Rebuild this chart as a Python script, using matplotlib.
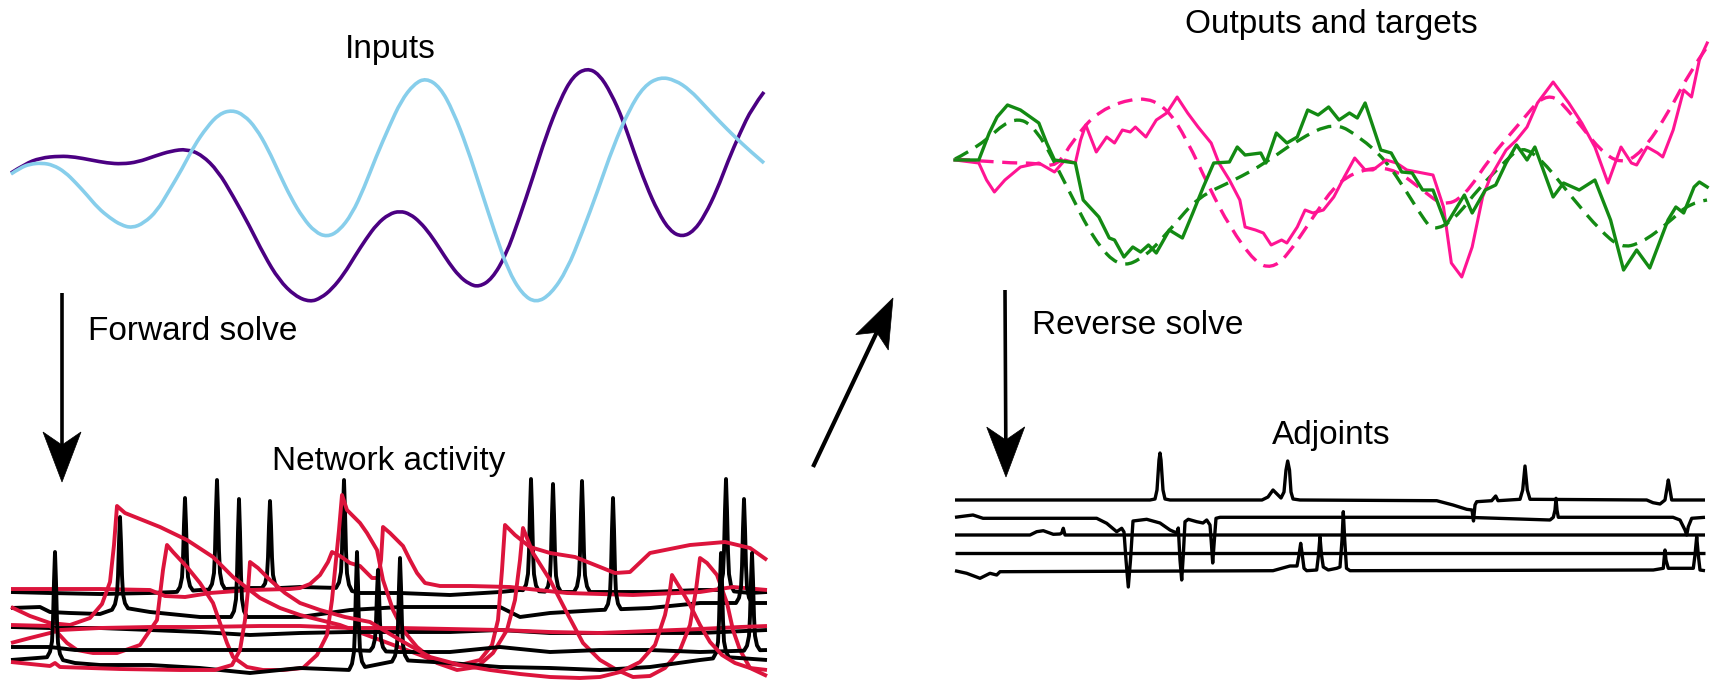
import matplotlib
matplotlib.use('Agg')
import matplotlib.pyplot as plt
from matplotlib.patches import Polygon, PathPatch
from matplotlib.path import Path
import numpy as np

plt.rcParams['font.family'] = ['Liberation Sans', 'DejaVu Sans']

W, H = 1719, 686

# ---------------- data: Inputs ----------------
purple_t = [11,25,40,60,75,91,107,122,138,155,171,187,202,218,233,249,264,279,295,310,321,332,344,355,366,377,389,400,
            410,420,430,440,449,459,469,479,492,506,519,533,546,560,573,587,599,611,623,634,646,658,670,682,694,705,717,728,740,752,764]
purple_v = [173,164,158,156,157,160,163,164,162,156,151,149,155,171,196,225,255,280,296,302,298,289,274,256,239,224,214,211,
            214,222,234,249,263,276,284,287,279,255,219,177,136,100,76,68,74,93,120,152,185,212,231,237,231,215,190,161,133,108,92]
blue_t = [11,20,30,42,53,65,76,87,98,110,121,132,144,157,169,182,194,207,219,232,244,256,268,279,291,303,315,327,
          339,352,364,376,389,401,414,426,440,453,467,481,495,508,522,536,551,567,582,598,613,629,644,660,675,690,705,720,735,750,764]
blue_v = [174,168,164,163,165,172,183,195,208,218,225,228,223,211,191,169,146,127,114,110,115,128,149,173,198,218,232,237,
          231,214,188,157,127,101,84,78,87,111,147,190,233,270,294,303,294,270,233,190,147,110,86,77,80,90,106,122,137,151,163]

# ---------------- data: Outputs and targets ----------------
green_tgt_t = [955,979,1013,1037,1068,1095,1121,1147,1174,1200,1237,1268,1300,1337,1363,1389,1411,1426,1437,1458,1484,1511,1526,1547,1579,1605,1626,1647,1674,1695,1713]
green_tgt_v = [159,147,116,127,187,240,268,257,227,197,180,163,140,122,137,160,193,217,231,220,187,160,146,160,200,230,248,243,223,203,200]
pink_tgt_t = [955,1005,1037,1058,1074,1100,1142,1168,1189,1211,1232,1258,1274,1289,1316,1342,1374,1400,1426,1447,1468,1495,1521,1553,1579,1605,1626,1647,1674,1695,1713]
pink_tgt_v = [159,163,163,167,140,110,96,107,140,187,227,263,268,257,217,180,167,170,190,206,197,157,127,89,117,150,164,153,113,73,47]
green_out_t = [955,979,989.5,997.4,1007.9,1021,1039.5,1047.4,1055.3,1076.3,1084.2,1100,1110.5,1115.8,1125.3,1134.2,1142.1,1150,1157.9,1171,
               1184.2,1194.7,1205.3,1215.8,1231.6,1239.5,1247.4,1263.2,1268.4,1278.9,1289.5,1300,1310.5,1321,1331.6,1342.1,1352.6,1360.5,1368.4,
               1384.2,1394.7,1405.3,1415.8,1426.3,1436.8,1450,1468.4,1476.3,1489.5,1500,1510.5,1521,1531.6,1539.5,1557.9,1568.4,1584.2,1600,
               1615.8,1628.9,1642.1,1655.3,1673.7,1681.6,1689.5,1700,1705.3,1713.2]
green_out_v = [160,160,133,117,105,110,123,143,160,163,200,217,238,240,257,247,252,245,253,230,
               238,213,187,163,162,147,155,153,163,133,143,137,110,115,107,120,113,118,103,
               150,153,172,173,190,190,225,195,213,190,185,163,145,160,147,197,183,190,180,
               220,270,250,268,220,207,213,187,182,187]
pink_out_t = [955,979,986.8,994.7,1005.3,1021,1039.5,1055.3,1065.8,1076.3,1081.6,1086.8,1097.4,1107.9,1115.8,1123.7,1131.6,1136.8,1147.4,
              1157.9,1168.4,1178.9,1189.5,1200,1213.2,1221,1231.6,1242.1,1247.4,1257.9,1265.8,1273.7,1284.2,1289.5,1300,1307.9,1315.8,
              1326.3,1336.8,1347.4,1357.9,1368.4,1376.3,1389.5,1400,1410.5,1426.3,1436.8,1447.4,1455.3,1465.8,1476.3,1486.8,1494.7,
              1510.5,1521,1531.6,1542.1,1557.9,1573.7,1586.8,1600,1613.2,1626.3,1636.8,1642.1,1652.6,1663.2,1668.4,1678.9,1689.5,
              1697.4,1705.3,1713.2]
pink_out_v = [160,163,180,192,180,167,163,172,160,163,140,125,152,137,143,130,132,127,137,
              120,113,97,113,127,143,163,180,200,227,230,233,245,240,243,227,210,213,
              210,197,177,158,170,170,160,163,170,173,175,207,263,277,247,197,177,
              150,140,127,103,82,103,123,147,183,147,163,165,147,153,157,130,90,
              97,60,43]

# ---------------- data: Network activity ----------------
blk_a_t = [11,50,100,150,175,200,250,280,300,340,360,400,450,500,520,550,600,650,700,720,750,767]
blk_a_v = [592,593,594,593,592,590,588,588,587,588,593,593,595,592,590,592,592,592,590,590,593,592]
blk_b_t = [11,40,50,70,100,120,150,200,300,350,400,500,520,550,600,650,700,740,767]
blk_b_v = [608,607,612,613,614,607,612,617,617,610,607,607,617,613,610,608,603,603,603]
blk_c_t = [11,50,100,150,200,250,300,350,400,450,500,550,600,650,700,767]
blk_c_v = [627,628,628,630,632,635,633,632,632,632,630,633,633,633,633,630]
blk_d_t = [11,50,75,100,150,200,250,300,350,400,450,500,550,600,650,700,767]
blk_d_v = [647,647,650,650,650,650,650,650,650,652,652,647,652,650,650,652,650]
blk_e_t = [11,50,75,100,150,200,250,300,350,400,450,500,550,600,650,700,725,767]
blk_e_v = [660,657,663,665,665,668,673,668,670,660,663,667,668,670,667,660,657,660]
# spike times and peak levels for each black trace
spk_a_t = [185,217,270,344,531,553,582,726]
spk_a_v = [498,480,501,480,479,484,481,479]
spk_b_t = [120,239,613,744]
spk_b_v = [517,499,498,499]
spk_d_t = [378,752]
spk_d_v = [570,553]
spk_e_t = [55,357,400,721]
spk_e_v = [552,552,558,553]

red_a_t = [11,100,150,165,185,210,250,290,300,310,320,328,332,340,350,360,372,378,381,383,390,397,403,410,417,425,440,470,510,567,633,700,733,767]
red_a_v = [589,589,590,596,597,593,590,589,588,584,575,562,552,556,563,566,578,578,560,527,533,540,546,560,573,583,586,586,587,593,595,592,587,590]
red_b_t = [11,30,50,70,90,102,110,114,117,125,140,160,187,213,233,247,260,280,300,340,380,420,440,460,480,492,498,502,505,
           515,530,550,575,600,615,630,650,690,725,750,767]
red_b_v = [607,616,623,625,618,604,582,545,506,513,519,527,540,557,577,588,598,608,615,625,640,655,663,665,660,645,620,570,525,
           535,547,553,557,567,573,572,553,545,542,548,560]
red_c_t = [11,50,55,67,77,93,117,140,157,163,167,173,187,200,213,220,227,233,247,263,283,303,317,327,332,336,339,342,
           347,360,367,377,383,393,403,417,437,457,477,493,507,515,520,523,533,550,567,583,600,617,633,650,665,680,690,696,700,
           707,717,727,733,740,750,767]
red_c_v = [625,626,630,643,650,653,653,645,620,570,545,552,567,583,603,623,643,657,667,670,670,668,655,635,600,560,530,495,
           510,523,533,550,580,610,630,647,663,670,667,653,630,600,560,528,553,580,613,643,660,670,677,676,668,650,625,590,558,
           563,575,603,630,650,668,676]
red_d_t = [11,30,50,60,100,150,200,260,300,350,400,450,500,550,600,650,700,740,767]
red_d_v = [643,638,633,630,628,627,627,626,626,628,628,629,630,632,633,631,629,627,626]
red_e_t = [11,50,55,60,120,180,215,232,240,245,248,250,258,270,285,300,320,345,370,400,430,460,490,520,550,580,600,620,640,655,665,670,672,
           680,690,700,710,722,735,750,767]
red_e_v = [662,666,663,667,669,670,670,665,650,620,590,562,568,580,593,603,610,617,622,640,657,665,670,674,677,678,677,672,662,645,615,590,575,
           588,605,625,642,655,663,668,670]

# ---------------- data: Adjoints ----------------
adj1_t = [955,1150,1155,1157,1159,1160,1161,1163,1165,1170,1262,1268,1273,1277,1281,1284,1286,1287.7,1289.5,1291,1293,1300,1436.7,1453,1466.7,1472,
          1473.5,1475,1476.7,1491.7,1495.7,1498,1520,1522.7,1525,1527.3,1530,1646.7,1653,1660,1665,1667,1668.3,1669.7,1671.7,1705]
adj1_v = [500,500,499,490,460,453,460,490,499,500,500,497,490,494,498,492,470,461,470,492,499,500,500.7,505,509.3,510,
          521,505,501.7,500.7,496,500.7,499.3,490,466,490,499.3,500,502.7,504,500,488,480,488,500,500]
adj2_t = [955,965,973,983,1096.7,1106.7,1116.7,1121.7,1124,1126,1128.3,1130.5,1133,1146.7,1160,1170,1176.7,1178.3,1180,1181.7,1183.3,1185,
          1188.3,1196.7,1203,1206.7,1210,1211.5,1212.7,1214,1216,1220,1466.7,1550,1553.3,1555,1556,1557,1558.3,1673,1680,1685,1686.7,
          1688.3,1691.7,1705]
adj2_v = [517.3,516,515,518.3,518.3,523.3,531.7,528.3,532,560,587,560,521,519.3,523,530,533,528,560,580,555,521.7,
          519.3,521.7,523,520,525,545,563,545,518.3,517.3,517.3,520,517.3,510,498.3,510,517.3,517.3,520,530,535,
          526.7,518.3,517.3]
adj3_t = [955,1030,1036.7,1043.3,1053.3,1060,1061.7,1063.3,1065,1705]
adj3_v = [535,535,531.7,530.7,534.3,534,533,528.3,535,535]
adj4_t = [955,1705]
adj4_v = [553.3,553.3]
adj5_t = [955,966.7,980,990,996.7,1000,1273,1290,1297,1299,1300.7,1302.3,1304,1306.7,1316.7,1318.5,1320,1321.5,1323.3,1328.3,1336.7,1340,
          1342,1343.3,1344.7,1346.5,1350,1653.3,1663.3,1664,1665,1666,1668.3,1680,1693.3,1695,1696.7,1698.3,1700,1705]
adj5_v = [570.7,573.3,578.3,573.3,575,571.7,570.7,566,566,555,543.3,555,568.3,570.7,570,555,536.7,555,567,570,568.3,567,
          540,511.7,540,568.3,570.7,570,568.3,560,550,560,568.3,568.3,568.3,555,536.7,555,570,570.7]

# ---------------- styles ----------------
C_PURPLE = '#4B0082'
C_BLUE = '#87CEEB'
C_PINK = '#FF1493'
C_GREEN = '#138A13'
C_RED = '#DC143C'

fig = plt.figure(figsize=(W / 100, H / 100), dpi=100)


def panel(x0, x1, y0, y1, xlim, ylim):
    ax = fig.add_axes([x0 / W, 1 - y1 / H, (x1 - x0) / W, (y1 - y0) / H])
    ax.set_xlim(*xlim)
    ax.set_ylim(*ylim)
    ax.axis('off')
    return ax


def smooth_line(ax, t, v, **kw):
    """Draw a smooth (quadratic B-spline style) curve through the read points."""
    p = np.column_stack([t, v]).astype(float)
    verts = [p[0]]
    codes = [Path.MOVETO]
    n = len(p)
    for i in range(1, n - 1):
        end = p[n - 1] if i == n - 2 else (p[i] + p[i + 1]) / 2
        verts += [p[i], end]
        codes += [Path.CURVE3, Path.CURVE3]
    patch = PathPatch(Path(verts, codes), fill=False, clip_on=False, capstyle='butt', **kw)
    ax.add_patch(patch)
    return patch


# overlay for text and arrows
ov = fig.add_axes([0, 0, 1, 1])
ov.set_xlim(0, W)
ov.set_ylim(H, 0)
ov.axis('off')

FS = 24
ov.text(390, 58, 'Inputs', ha='center', va='baseline', fontsize=FS)
ov.text(88, 340, 'Forward solve', ha='left', va='baseline', fontsize=FS)
ov.text(389, 470, 'Network activity', ha='center', va='baseline', fontsize=FS)
ov.text(1331, 33, 'Outputs and targets', ha='center', va='baseline', fontsize=FS)
ov.text(1032, 334, 'Reverse solve', ha='left', va='baseline', fontsize=FS)
ov.text(1331, 444, 'Adjoints', ha='center', va='baseline', fontsize=FS)


def arrow(ax, tail, tip, hl, hw, notch, lw):
    tail = np.array(tail, float)
    tip = np.array(tip, float)
    d = tip - tail
    u = d / np.hypot(*d)
    n = np.array([-u[1], u[0]])
    base = tip - u * hl
    nptn = tip - u * (hl - notch)
    ax.plot([tail[0], nptn[0]], [tail[1], nptn[1]], color='k', lw=lw, solid_capstyle='butt')
    ax.add_patch(Polygon([tip, base + n * hw / 2, nptn, base - n * hw / 2], closed=True,
                         facecolor='k', edgecolor='k', lw=0.5))


arrow(ov, (62, 293), (62, 482), 50, 38, 13, 2.6)
arrow(ov, (1005, 290), (1006, 477), 50, 38, 13, 2.6)
arrow(ov, (813, 467), (893, 298), 49, 36, 11, 3.0)

# ---------------- Inputs panel ----------------
ax_in = panel(11, 764, 60, 310, (11, 764), (310, 60))
smooth_line(ax_in, purple_t, purple_v, edgecolor=C_PURPLE, lw=2.6)
smooth_line(ax_in, blue_t, blue_v, edgecolor=C_BLUE, lw=2.6)

# ---------------- Outputs panel ----------------
ax_out = panel(955, 1707, 40, 280, (955, 1713), (280, 40))
smooth_line(ax_out, pink_tgt_t, pink_tgt_v, edgecolor=C_PINK, lw=2.4, linestyle=(0, (4.5, 2.6)))
smooth_line(ax_out, green_tgt_t, green_tgt_v, edgecolor=C_GREEN, lw=2.4, linestyle=(0, (4.5, 2.6)))
ax_out.plot(pink_out_t, pink_out_v, color=C_PINK, lw=2.2, clip_on=False, solid_joinstyle='round')
ax_out.plot(green_out_t, green_out_v, color=C_GREEN, lw=2.4, clip_on=False, solid_joinstyle='round')

# ---------------- Network panel ----------------
ax_net = panel(11, 767, 470, 682, (11, 767), (682, 470))
spike_dx = np.array([-8, -5, -3, -2, -1, 0, 1, 2, 3, 5, 8], float)
spike_fr = np.array([0, 0.05, 0.15, 0.35, 0.72, 1, 0.72, 0.35, 0.15, 0.05, 0])


def spiky(bt, bv, st, sv):
    bt = np.asarray(bt, float)
    bv = np.asarray(bv, float)
    ts = list(bt)
    for s in st:
        ts += list(s + spike_dx)
    ts = np.unique(np.array(ts))
    vs = np.interp(ts, bt, bv)
    for s, p in zip(st, sv):
        base = np.interp(s, bt, bv)
        prof = np.interp(ts, s + spike_dx, spike_fr, left=0, right=0)
        vs = vs - prof * (base - p)
    return ts, vs


NLW = 2.8
pairs = [
    ('k', spiky(blk_a_t, blk_a_v, spk_a_t, spk_a_v)),
    (C_RED, (red_a_t, red_a_v)),
    ('k', spiky(blk_b_t, blk_b_v, spk_b_t, spk_b_v)),
    (C_RED, (red_b_t, red_b_v)),
    ('k', (blk_c_t, blk_c_v)),
    (C_RED, (red_c_t, red_c_v)),
    ('k', spiky(blk_d_t, blk_d_v, spk_d_t, spk_d_v)),
    (C_RED, (red_d_t, red_d_v)),
    ('k', spiky(blk_e_t, blk_e_v, spk_e_t, spk_e_v)),
    (C_RED, (red_e_t, red_e_v)),
]
for col, (t, v) in pairs:
    ax_net.plot(t, v, color=col, lw=NLW, clip_on=False, solid_joinstyle='round', solid_capstyle='butt')

# ---------------- Adjoints panel ----------------
ax_adj = panel(955, 1705, 445, 595, (955, 1705), (595, 445))
for t, v in [(adj1_t, adj1_v), (adj2_t, adj2_v), (adj3_t, adj3_v), (adj4_t, adj4_v), (adj5_t, adj5_v)]:
    ax_adj.plot(t, v, color='k', lw=2.4, clip_on=False, solid_joinstyle='round', solid_capstyle='butt')

fig.savefig('out.png', dpi=100)
